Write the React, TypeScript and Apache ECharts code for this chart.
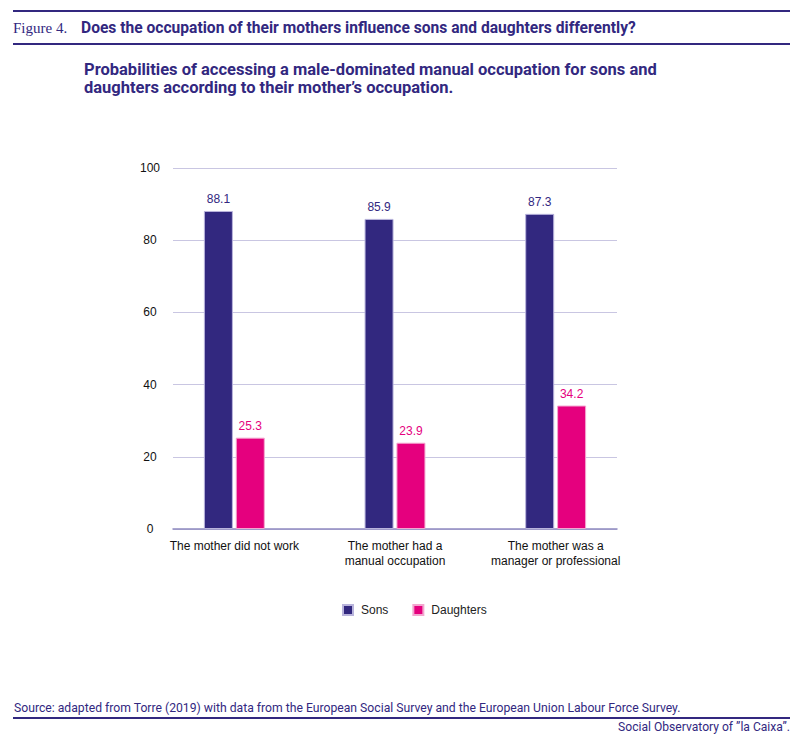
import { useEffect, useRef } from "react";
import * as echarts from "echarts";

const categories = [
  "The mother did not work",
  "The mother had a\nmanual occupation",
  "The mother was a\nmanager or professional",
];
const sons = [88.1, 85.9, 87.3];
const daughters = [25.3, 23.9, 34.2];
const yTicks = { min: 0, max: 100, interval: 20 };

const PURPLE = "#32287f";
const MAGENTA = "#e5007e";
const GRIDLINE = "#c9c6e2";

const App = () => {
  const chartRef = useRef(null);

  useEffect(() => {
    document.body.style.margin = "0";
    if (!chartRef.current) return;
    const chart = echarts.init(chartRef.current, null, { renderer: "svg" });

    const labelFont = "Liberation Sans, Arial, sans-serif";
    const headFont = "Roboto, sans-serif";

    const option = {
      animation: false,
      textStyle: { fontFamily: labelFont },
      title: [
        {
          text: "Figure 4.",
          left: 8,
          top: 15,
          textStyle: {
            fontFamily: "Liberation Serif, serif",
            fontWeight: "normal",
            fontSize: 15,
            color: PURPLE,
          },
        },
        {
          text: "Does the occupation of their mothers influence sons and daughters differently?",
          left: 76,
          top: 15,
          textStyle: {
            fontFamily: headFont,
            fontWeight: "bold",
            fontSize: 15.6,
            color: PURPLE,
          },
        },
        {
          text: "Probabilities of accessing a male-dominated manual occupation for sons and\ndaughters according to their mother\u2019s occupation.",
          left: 79,
          top: 55,
          textStyle: {
            fontFamily: headFont,
            fontWeight: "bold",
            fontSize: 16.5,
            lineHeight: 18,
            color: PURPLE,
          },
        },
      ],
      legend: {
        left: 337,
        top: 599,
        itemWidth: 10,
        itemHeight: 10,
        itemGap: 24,
        icon: "rect",
        textStyle: {
          fontSize: 12,
          color: "#222",
          fontFamily: labelFont,
          padding: [0, 0, 0, 3],
        },
        data: ["Sons", "Daughters"],
      },
      grid: [
        { left: 173, right: 183, top: 168, bottom: 215 },
        { left: 154, right: 164, top: 168, bottom: 215 },
      ],
      xAxis: [
        {
          gridIndex: 0,
          type: "category",
          data: categories,
          axisLine: { lineStyle: { color: "#8f8ac0", width: 1.5 } },
          axisTick: { show: false },
          axisLabel: { show: false },
        },
        {
          gridIndex: 1,
          type: "category",
          data: categories,
          axisLine: { show: false },
          axisTick: { show: false },
          axisLabel: {
            interval: 0,
            margin: 9,
            fontSize: 12,
            lineHeight: 15,
            color: "#111",
            fontFamily: labelFont,
          },
        },
      ],
      yAxis: [
        {
          gridIndex: 0,
          type: "value",
          min: yTicks.min,
          max: yTicks.max,
          interval: yTicks.interval,
          axisLine: { show: false },
          axisTick: { show: false },
          axisLabel: {
            align: "center",
            margin: 23,
            fontSize: 12,
            color: "#111",
            fontFamily: labelFont,
          },
          splitLine: { lineStyle: { color: GRIDLINE, width: 1 } },
        },
        {
          gridIndex: 1,
          type: "value",
          min: yTicks.min,
          max: yTicks.max,
          interval: yTicks.interval,
          show: false,
          splitLine: { show: false },
        },
      ],
      series: [
        {
          name: "Sons",
          type: "bar",
          xAxisIndex: 1,
          yAxisIndex: 1,
          data: sons,
          barWidth: 29,
          barGap: "10%",
          itemStyle: { color: PURPLE, borderColor: "#b9b4dc", borderWidth: 1 },
          label: {
            show: true,
            position: "top",
            distance: 6,
            fontSize: 12,
            color: PURPLE,
            fontFamily: labelFont,
          },
        },
        {
          name: "Daughters",
          type: "bar",
          xAxisIndex: 1,
          yAxisIndex: 1,
          data: daughters,
          barWidth: 29,
          itemStyle: { color: MAGENTA, borderColor: "#f3a6cf", borderWidth: 1 },
          label: {
            show: true,
            position: "top",
            distance: 6,
            fontSize: 12,
            color: MAGENTA,
            fontFamily: labelFont,
          },
        },
      ],
      graphic: [
        { type: "rect", shape: { x: 13, y: 10, width: 777, height: 2 }, style: { fill: PURPLE } },
        { type: "rect", shape: { x: 13, y: 43, width: 777, height: 2 }, style: { fill: PURPLE } },
        {
          type: "text",
          left: 14,
          top: 702,
          style: {
            text: "Source: adapted from Torre (2019) with data from the European Social Survey and the European Union Labour Force Survey.",
            font: "12.2px Roboto, sans-serif",
            fill: PURPLE,
          },
        },
        { type: "rect", shape: { x: 13, y: 717, width: 777, height: 2 }, style: { fill: PURPLE } },
        {
          type: "text",
          right: 10,
          top: 721,
          style: {
            text: "Social Observatory of \u201Dla Caixa\u201D.",
            font: "12.1px Roboto, sans-serif",
            fill: PURPLE,
          },
        },
      ],
    };

    chart.setOption(option);
    return () => {
      chart.dispose();
    };
  }, []);

  return <div ref={chartRef} style={{ width: 800, height: 744 }} />;
};

export default App;
